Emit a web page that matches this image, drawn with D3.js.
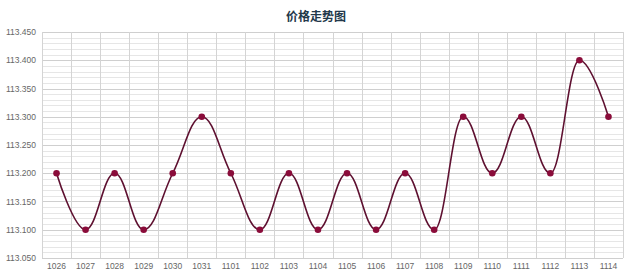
<!DOCTYPE html>
<html>
<head>
<meta charset="utf-8">
<script src="https://cdn.jsdelivr.net/npm/d3@7"></script>
<style>
  body { margin: 0; background: #fff; }
  svg text { font-family: "Liberation Sans", Arial, sans-serif; }
</style>
</head>
<body>
<div id="chart"></div>
<script>
// chart data
const dates = ['1026', '1027', '1028', '1029', '1030', '1031', '1101', '1102', '1103', '1104',
               '1105', '1106', '1107', '1108', '1109', '1110', '1111', '1112', '1113', '1114'];
const prices = [113.2, 113.1, 113.2, 113.1, 113.2, 113.3, 113.2, 113.1, 113.2, 113.1,
                113.2, 113.1, 113.2, 113.1, 113.3, 113.2, 113.3, 113.2, 113.4, 113.3];
const yTicks = [113.05, 113.10, 113.15, 113.20, 113.25, 113.30, 113.35, 113.40, 113.45];
const title = '价格走势图';

const totalWidth = 640, totalHeight = 280;
const margins = {top: 32, bottom: 22, left: 42, right: 17};
const width = totalWidth - margins.left - margins.right;
const height = totalHeight - margins.top - margins.bottom;

const svg = d3.select('#chart').append('svg')
  .attr('width', totalWidth)
  .attr('height', totalHeight);

svg.append('text')
  .attr('x', 316)
  .attr('y', 21)
  .attr('text-anchor', 'middle')
  .style('font-family', '"Noto Sans CJK SC", sans-serif')
  .style('font-size', '12px')
  .style('font-weight', 'bold')
  .style('fill', '#22384a')
  .text(title);

const x = d3.scaleBand().domain(dates).range([0, width]);
const y = d3.scaleLinear().domain([113.05, 113.45]).range([height, 0]);

const g = svg.append('g')
  .attr('transform', 'translate(' + [margins.left, margins.top] + ')');

// minor horizontal grid (every 0.01)
const minor = d3.range(0, 41).map(i => 113.05 + i * 0.01).filter(v => Math.round(v * 100) % 5 !== 0);
g.selectAll('line.minor')
  .data(minor)
  .enter().append('line')
  .attr('class', 'minor')
  .attr('x1', 0).attr('x2', width)
  .attr('y1', d => Math.round(y(d)) + 0.5).attr('y2', d => Math.round(y(d)) + 0.5)
  .style('stroke', '#e6e6e6');

// major horizontal grid
g.selectAll('line.major')
  .data(yTicks)
  .enter().append('line')
  .attr('class', 'major')
  .attr('x1', 0).attr('x2', width)
  .attr('y1', d => Math.round(y(d)) + 0.5).attr('y2', d => Math.round(y(d)) + 0.5)
  .style('stroke', '#cfcfcf');

// vertical grid at band boundaries
const bounds = dates.map(d => x(d)).concat([width]);
g.selectAll('line.vgrid')
  .data(bounds)
  .enter().append('line')
  .attr('class', 'vgrid')
  .attr('x1', d => Math.round(d) + 0.5).attr('x2', d => Math.round(d) + 0.5)
  .attr('y1', 0).attr('y2', height)
  .style('stroke', '#d4d4d4');

// y axis labels
const fmt = d3.format(',.3f');
g.selectAll('text.ylab')
  .data(yTicks)
  .enter().append('text')
  .attr('class', 'ylab')
  .attr('x', -6)
  .attr('y', d => y(d) + 3)
  .attr('text-anchor', 'end')
  .style('font-size', '8.5px')
  .style('fill', '#666')
  .text(d => fmt(d));

// x axis labels
g.selectAll('text.xlab')
  .data(dates)
  .enter().append('text')
  .attr('class', 'xlab')
  .attr('x', d => x(d) + x.bandwidth() / 2)
  .attr('y', height + 11)
  .attr('text-anchor', 'middle')
  .style('font-size', '8.5px')
  .style('fill', '#666')
  .text(d => d);

// spline path, same control point rule as a highcharts spline
function splinePath(pts) {
  const smoothing = 1.5, denom = smoothing + 1;
  let d = 'M' + pts[0][0] + ',' + pts[0][1];
  let prevRight = pts[0];
  for (let i = 1; i < pts.length; i++) {
    const [px, py] = pts[i];
    const last = pts[i - 1], next = pts[i + 1];
    let left = [px, py], right = [px, py];
    if (next) {
      let lcx = (smoothing * px + last[0]) / denom, lcy = (smoothing * py + last[1]) / denom;
      let rcx = (smoothing * px + next[0]) / denom, rcy = (smoothing * py + next[1]) / denom;
      const corr = ((rcy - lcy) * (rcx - px)) / (rcx - lcx) + py - rcy;
      lcy += corr; rcy += corr;
      if (lcy > last[1] && lcy > py) { lcy = Math.max(last[1], py); rcy = 2 * py - lcy; }
      else if (lcy < last[1] && lcy < py) { lcy = Math.min(last[1], py); rcy = 2 * py - lcy; }
      if (rcy > next[1] && rcy > py) { rcy = Math.max(next[1], py); lcy = 2 * py - rcy; }
      else if (rcy < next[1] && rcy < py) { rcy = Math.min(next[1], py); lcy = 2 * py - rcy; }
      left = [lcx, lcy]; right = [rcx, rcy];
    }
    d += 'C' + prevRight + ' ' + left + ' ' + px + ',' + py;
    prevRight = right;
  }
  return d;
}

const pts = prices.map((v, i) => [x(dates[i]) + x.bandwidth() / 2, y(v)]);

g.append('path')
  .attr('d', splinePath(pts))
  .style('fill', 'none')
  .style('stroke', '#5e1030')
  .style('stroke-width', 1.6);

g.selectAll('circle.pt')
  .data(prices)
  .enter().append('circle')
  .attr('class', 'pt')
  .attr('cx', (d, i) => x(dates[i]) + x.bandwidth() / 2)
  .attr('cy', d => y(d))
  .attr('r', 3.3)
  .style('fill', '#8a0c3a');
</script>
</body>
</html>
